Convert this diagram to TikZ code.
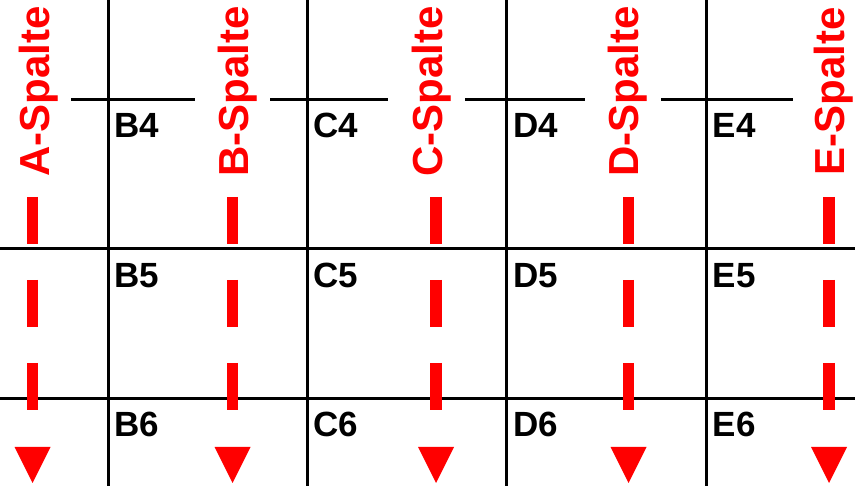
\documentclass[tikz,border=0pt]{standalone}
\usepackage{fontspec}
\setmainfont{Liberation Sans}
\begin{document}
\begin{tikzpicture}[x=1pt,y=-1pt,
  gridline/.style={line width=3pt,black},
  collabel/.style={rotate=90,anchor=base,text=red,inner sep=0pt,font=\bfseries\fontsize{42}{50}\selectfont},
  celllabel/.style={anchor=base west,inner sep=0pt,font=\bfseries\fontsize{35}{42}\selectfont},
  redflow/.style={red,line width=11.5pt,dash pattern=on 47pt off 36pt},
  flowhead/.style={fill=red}]
\useasboundingbox (0,0) rectangle (855,486);
% grid
\foreach \v in {108,307,506.5,706}{
  \draw[gridline] (\v,0) -- (\v,486);
}
\draw[gridline] (0,248.5) -- (855,248.5);
\draw[gridline] (0,399) -- (855,399);
\draw[gridline] (71,99.5) -- (195,99.5);
\draw[gridline] (270,99.5) -- (388,99.5);
\draw[gridline] (465,99.5) -- (585,99.5);
\draw[gridline] (661,99.5) -- (793,99.5);
% cell labels
\foreach \c/\v in {B/108,C/307,D/506.5,E/706}{
  \node[celllabel] (\c4) at (\v+6.5,138) {\c4};
  \node[celllabel] (\c5) at (\v+6.5,288) {\c5};
  \node[celllabel] (\c6) at (\v+6.5,437) {\c6};
}
% column labels and flow arrows
\foreach \c/\tx/\dx in {A/49/32.5,B/248/232.5,C/442/436,D/638/628.5,E/844/829}{
  \node[collabel] (lab\c) at (\tx,91.5) {\c-Spalte};
  \coordinate (s\c) at (\dx,197);
  \coordinate (e\c) at (\dx,411);
  \draw[redflow] (s\c) -- (e\c);
  \fill[flowhead] (\dx-18,447) -- (\dx+18,447) -- (\dx,483) -- cycle;
}
\end{tikzpicture}
\end{document}
